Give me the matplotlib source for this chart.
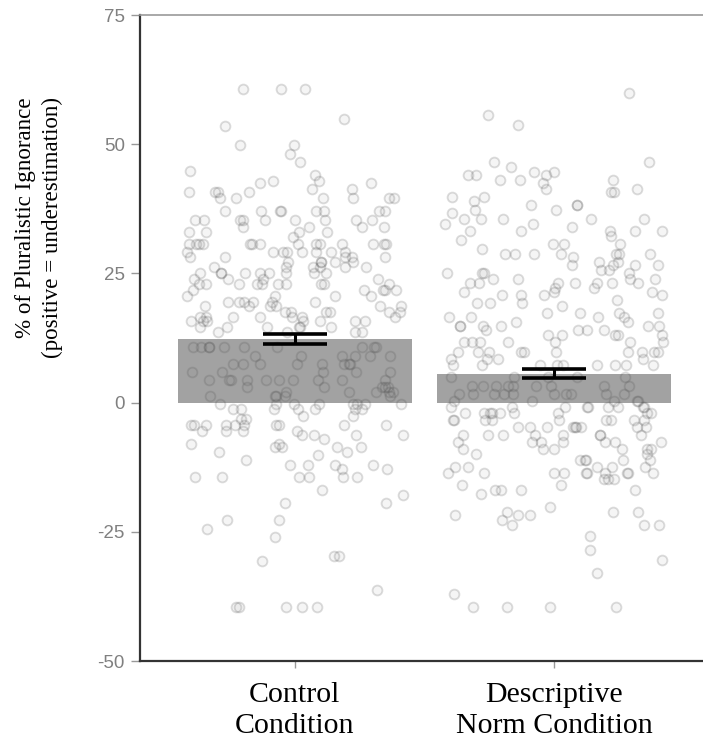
import matplotlib
matplotlib.use("Agg")
import matplotlib.pyplot as plt
import numpy as np

plt.rcParams['axes.unicode_minus'] = False

categories = ["Control\nCondition", "Descriptive\nNorm Condition"]
means = [12.3, 5.6]
err_low = [11.4, 4.7]
err_high = [13.2, 6.5]
yticks = [-50, -25, 0, 25, 50, 75]

# (value, number of points at that value)
control_rows = [
    (60.7, 3), (54.9, 1), (53.6, 1), (49.9, 2), (48.2, 1), (46.6, 1), (44.9, 1),
    (44.0, 1), (42.9, 2), (42.4, 2), (41.4, 2), (40.8, 4), (39.5, 6), (37.1, 8),
    (35.4, 9), (34.0, 4), (33.1, 4), (32.1, 1), (30.7, 14), (29.2, 8), (28.2, 5),
    (27.3, 5), (26.3, 6), (25.0, 9), (24.0, 4), (23.0, 10), (21.7, 5), (20.7, 4),
    (19.5, 6), (18.6, 6), (17.6, 6), (16.6, 7), (15.7, 7), (14.7, 6), (13.7, 4),
    (10.8, 10), (9.1, 6), (7.5, 8), (5.9, 5), (4.3, 10), (3.1, 5), (2.1, 5), (1.2, 5),
    (-0.2, 8), (-1.2, 7), (-2.5, 2), (-3.1, 2), (-4.4, 10), (-5.4, 4), (-6.3, 4),
    (-7.0, 1), (-8.0, 2), (-8.6, 4), (-9.5, 2), (-10.2, 1), (-11.2, 1), (-12.0, 4),
    (-12.8, 2), (-14.4, 6), (-17.0, 1), (-17.8, 1), (-19.5, 2), (-22.8, 2), (-24.4, 1),
    (-26.1, 1), (-29.6, 2), (-30.6, 1), (-36.2, 1), (-39.5, 5),
]
descriptive_rows = [
    (59.9, 1), (55.6, 1), (53.8, 1), (46.6, 2), (45.6, 1), (44.7, 2), (44.0, 3),
    (43.0, 3), (42.4, 1), (41.4, 2), (40.8, 2), (39.8, 2), (39.1, 1), (38.2, 3),
    (37.2, 2), (36.6, 1), (35.6, 5), (34.6, 2), (34.0, 1), (33.3, 5), (32.2, 1),
    (31.4, 1), (30.6, 3), (29.8, 1), (28.8, 7), (28.2, 1), (27.3, 2), (26.6, 4),
    (25.6, 2), (25.0, 4), (24.0, 4), (23.1, 7), (22.1, 2), (21.4, 3), (20.8, 4),
    (19.8, 1), (19.2, 3), (18.6, 1), (17.3, 4), (16.6, 4), (15.6, 2), (14.9, 6),
    (14.0, 4), (13.0, 5), (11.7, 7), (9.8, 10), (8.5, 4), (7.2, 9), (5.0, 5),
    (3.3, 9), (1.7, 10), (0.4, 5), (-0.8, 9), (-2.1, 9), (-3.4, 9), (-4.7, 9),
    (-6.3, 8), (-7.6, 7), (-8.9, 6), (-9.9, 2), (-11.2, 5), (-12.4, 5), (-13.7, 10),
    (-14.7, 3), (-16.0, 2), (-17.0, 4), (-17.6, 1), (-20.2, 1), (-21.1, 3),
    (-21.8, 3), (-22.8, 1), (-23.7, 3), (-25.8, 1), (-28.6, 1), (-30.5, 1),
    (-32.9, 1), (-37.0, 1), (-39.5, 4),
]


def expand(rows):
    return np.array([v for v, n in rows for _ in range(n)], dtype=float)


def jitter_offsets(n, seed_shift):
    # deterministic hash-style horizontal spread (position only)
    k = np.arange(n) + 1.0 + seed_shift
    frac = np.modf(np.abs(np.sin(k * 12.9898 + 78.233) * 43758.5453))[0]
    return (frac - 0.5) * 0.84


groups = [expand(control_rows), expand(descriptive_rows)]

W, H = 703, 746
fig = plt.figure(figsize=(W / 100, H / 100), dpi=100)
ax = fig.add_axes([140 / W, 85 / H, 563 / W, 646 / H])

xpos = np.arange(len(categories))
ax.bar(xpos, means, width=0.9, color='#a2a2a2', zorder=1)

for i, vals in enumerate(groups):
    ax.scatter(xpos[i] + jitter_offsets(len(vals), 500 * i), vals, s=50,
               facecolors=(0.5, 0.5, 0.5, 0.08),
               edgecolors=(0.3, 0.3, 0.3, 0.2), linewidths=1.3, zorder=2)

cap = 0.125
ax.vlines(xpos, err_low, err_high, color='black', lw=2.2, zorder=3)
ax.hlines(err_low, xpos - cap, xpos + cap, color='black', lw=2.6, zorder=3)
ax.hlines(err_high, xpos - cap, xpos + cap, color='black', lw=2.6, zorder=3)

ax.set_xlim(-0.598, 1.575)
ax.set_ylim(-50, 75)
ax.set_yticks(yticks)
ax.set_yticklabels([str(t) for t in yticks])
ax.set_xticks(xpos)
ax.set_xticklabels(categories, family='Liberation Serif', fontsize=21.5,
                   linespacing=1.25)

for side in ['left', 'bottom']:
    ax.spines[side].set_color('#333333')
    ax.spines[side].set_linewidth(1.6)
ax.spines['top'].set_color('#9a9a9a')
ax.spines['top'].set_linewidth(1.2)
ax.spines['right'].set_visible(False)

ax.tick_params(axis='y', length=6.5, width=1, color='#999999',
               labelcolor='#808080', labelsize=13.5, pad=4.5)
ax.tick_params(axis='x', length=5, width=1, color='#999999',
               labelcolor='black', pad=10)
for lab in ax.get_yticklabels():
    lab.set_family('Liberation Sans')

fig.text(39 / W, 1 - 97 / H,
         "% of Pluralistic Ignorance\n(positive = underestimation)",
         rotation=90, ha='center', va='top', multialignment='right',
         family='Liberation Serif', fontsize=16.6, linespacing=1.4)

fig.savefig('out.png', dpi=100, facecolor='white')
